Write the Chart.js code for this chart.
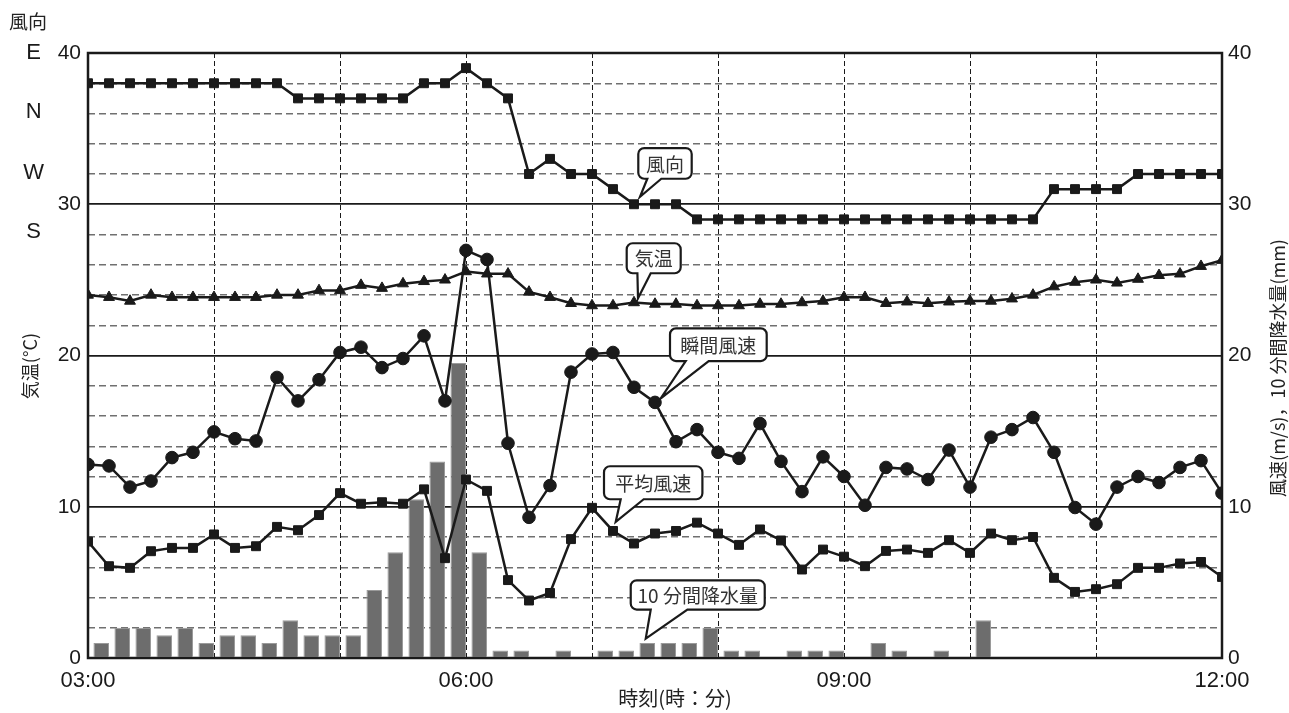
<!DOCTYPE html>
<html lang="ja">
<head>
<meta charset="utf-8">
<title>風向・気温・風速・10分間降水量</title>
<script src="https://cdn.jsdelivr.net/npm/chart.js@4.4.0/dist/chart.umd.min.js"></script>
<style>
  html, body { margin: 0; padding: 0; background: #fff; }
  #wrap { width: 1289px; height: 713px; position: relative; }
</style>
</head>
<body>
<div id="wrap"><canvas id="chart"></canvas></div>
<script>
// ── data: one reading every 10 min from 03:00 to 12:00 ──
var stepMin     = 10;
var xTickLabels = ['03:00', '06:00', '09:00', '12:00'];
var dirTicks    = [40, 36.1, 32.1, 28.2];
var dirLabels   = ['E', 'N', 'W', 'S'];

var windDir = [38, 38, 38, 38, 38, 38, 38, 38, 38, 38, 37, 37, 37, 37, 37, 37, 38, 38, 39, 38,
               37, 32, 33, 32, 32, 31, 30, 30, 30, 29, 29, 29, 29, 29, 29, 29, 29, 29, 29, 29,
               29, 29, 29, 29, 29, 29, 31, 31, 31, 31, 32, 32, 32, 32, 32];
var temp    = [24.0, 23.85, 23.6, 24.0, 23.85, 23.85, 23.85, 23.85, 23.85, 24.0, 24.0, 24.3, 24.3, 24.65, 24.45, 24.75, 24.9, 25.0, 25.55, 25.4,
               25.4, 24.2, 23.85, 23.45, 23.3, 23.3, 23.5, 23.4, 23.4, 23.3, 23.3, 23.3, 23.4, 23.4, 23.5, 23.6, 23.85, 23.85, 23.45, 23.55,
               23.45, 23.55, 23.6, 23.6, 23.75, 24.0, 24.55, 24.85, 25.0, 24.8, 25.05, 25.3, 25.4, 25.9, 26.3];
var gust    = [12.8, 12.7, 11.3, 11.7, 13.25, 13.6, 14.95, 14.5, 14.35, 18.55, 17.0, 18.4, 20.2, 20.55, 19.2, 19.8, 21.3, 17.0, 26.95, 26.35,
               14.2, 9.3, 11.4, 18.9, 20.1, 20.2, 17.9, 16.9, 14.3, 15.1, 13.6, 13.2, 15.5, 13.0, 11.0, 13.3, 12.0, 10.1, 12.6, 12.5,
               11.8, 13.75, 11.3, 14.6, 15.1, 15.9, 13.6, 9.95, 8.85, 11.3, 12.0, 11.6, 12.6, 13.05, 10.9];
var avgWind = [7.7, 6.07, 5.96, 7.06, 7.28, 7.28, 8.17, 7.28, 7.39, 8.67, 8.45, 9.45, 10.9, 10.2, 10.3, 10.2, 11.15, 6.6, 11.8, 11.05,
               5.15, 3.8, 4.3, 7.86, 9.93, 8.4, 7.57, 8.23, 8.4, 8.95, 8.23, 7.48, 8.5, 7.77, 5.85, 7.17, 6.7, 6.07, 7.08, 7.17,
               6.95, 7.79, 6.95, 8.23, 7.79, 8.0, 5.3, 4.37, 4.55, 4.88, 5.96, 5.96, 6.25, 6.35, 5.36];
// 10-min precipitation, for the intervals ending 03:10 ... 12:00
var rain    = [1, 2, 2, 1.5, 2, 1, 1.5, 1.5, 1, 2.5, 1.5, 1.5, 1.5, 4.5, 7, 10.5, 13, 19.5, 7, 0.5,
               0.5, 0, 0.5, 0, 0.5, 0.5, 1, 1, 1, 2, 0.5, 0.5, 0, 0.5, 0.5, 0.5, 0, 1, 0.5, 0,
               0.5, 0, 2.5, 0, 0, 0, 0, 0, 0, 0, 0, 0, 0, 0];

var barPct   = 0.74;
var barShift = stepMin * barPct / 2;   // bars sit just left of the time they end at
var ink      = '#1a1a1a';
var jpFont   = '"Noto Sans CJK JP", "Noto Sans", sans-serif';

function pts(arr) {
  return arr.map(function (v, i) { return { x: i * stepMin, y: v }; });
}
function rainPts(arr) {
  return arr.map(function (v, k) { return { x: (k + 1) * stepMin - barShift, y: v }; });
}

// speech-bubble labels, anchored on a data point
var callouts = [
  { text: '風向',         x: 26 * stepMin, y: windDir[26], tip: [6, -7.5],   box: [-1.7, -48.7, 53.4, 30.7], tail: [9, 23] },
  { text: '気温',         x: 26 * stepMin, y: temp[26],    tip: [4, -4.3],   box: [-11.3, -55, 54, 30],      tail: [10.7, 24] },
  { text: '瞬間風速',     x: 27 * stepMin, y: gust[27],    tip: [5.7, -4],   box: [9.3, -70, 96.7, 32.7],    tail: [15.7, 38.7] },
  { text: '平均風速',     x: 25 * stepMin, y: avgWind[25], tip: [2.7, -9],   box: [-11.7, -55.7, 98.4, 33],  tail: [16.7, 39.7] },
  { text: '10 分間降水量', x: 27 * stepMin - barShift, y: rain[26], tip: [-1.5, -4.3], box: [-15, -58.3, 134, 29.3], tail: [20, 56.7] },
];

function lineSet(label, data, style, radius) {
  return {
    type: 'line', label: label, data: pts(data), yAxisID: 'y',
    borderColor: ink, borderWidth: 2.5, tension: 0,
    pointStyle: style, pointRadius: radius, pointBorderWidth: 1,
    pointBackgroundColor: ink, pointBorderColor: ink,
    clip: 0, order: 1,
  };
}

var framePlugin = {
  id: 'frame',
  beforeDatasetsDraw: function (chart) {
    var a = chart.chartArea, ctx = chart.ctx;
    ctx.save();
    ctx.strokeStyle = ink;
    ctx.lineWidth = 2.5;
    ctx.strokeRect(a.left, a.top, a.right - a.left, a.bottom - a.top);
    ctx.restore();
  },
};

function drawCallout(ctx, c, px, py) {
  var tx = px + c.tip[0], ty = py + c.tip[1];
  var bx = tx + c.box[0], by = ty + c.box[1], bw = c.box[2], bh = c.box[3], r = 6;
  ctx.beginPath();
  ctx.moveTo(bx + r, by);
  ctx.lineTo(bx + bw - r, by);
  ctx.arcTo(bx + bw, by, bx + bw, by + r, r);
  ctx.lineTo(bx + bw, by + bh - r);
  ctx.arcTo(bx + bw, by + bh, bx + bw - r, by + bh, r);
  ctx.lineTo(bx + c.tail[1], by + bh);
  ctx.lineTo(tx, ty);
  ctx.lineTo(bx + c.tail[0], by + bh);
  ctx.lineTo(bx + r, by + bh);
  ctx.arcTo(bx, by + bh, bx, by + bh - r, r);
  ctx.lineTo(bx, by + r);
  ctx.arcTo(bx, by, bx + r, by, r);
  ctx.closePath();
  ctx.fillStyle = '#fff';
  ctx.fill();
  ctx.lineWidth = 2.2;
  ctx.strokeStyle = ink;
  ctx.stroke();
  ctx.fillStyle = '#333';
  ctx.font = '19px ' + jpFont;
  ctx.textAlign = 'center';
  ctx.textBaseline = 'middle';
  ctx.fillText(c.text, bx + bw / 2, by + bh / 2 + 1);
}

var notesPlugin = {
  id: 'notes',
  afterDraw: function (chart) {
    var ctx = chart.ctx, xs = chart.scales.x, ys = chart.scales.y;
    ctx.save();
    callouts.forEach(function (c) {
      drawCallout(ctx, c, xs.getPixelForValue(c.x), ys.getPixelForValue(c.y));
    });

    ctx.fillStyle = '#222';
    ctx.textAlign = 'center';
    ctx.textBaseline = 'middle';
    ctx.font = '19px ' + jpFont;
    ctx.fillText('風向', 28, 22);
    ctx.font = '20px ' + jpFont;
    ctx.fillText('時刻(時：分)', 675, 698);

    ctx.font = '18px ' + jpFont;
    ctx.save();
    ctx.translate(30, 366);
    ctx.rotate(-Math.PI / 2);
    ctx.fillText('気温(°C)', 0, 0);
    ctx.restore();
    ctx.save();
    ctx.translate(1278, 368);
    ctx.rotate(-Math.PI / 2);
    ctx.fillText('風速(m/s)，10 分間降水量(mm)', 0, 0);
    ctx.restore();
    ctx.restore();
  },
};

var numFont = { family: '"Liberation Sans", Arial, sans-serif', size: 21 };

new Chart(document.getElementById('chart').getContext('2d'), {
  type: 'line',
  data: {
    datasets: [
      lineSet('風向', windDir, 'rect', 6.3),
      lineSet('気温', temp, 'triangle', 6.3),
      lineSet('瞬間風速', gust, 'circle', 6.3),
      lineSet('平均風速', avgWind, 'rect', 6.3),
      {
        type: 'bar', label: '10分間降水量', data: rainPts(rain), yAxisID: 'y',
        backgroundColor: '#6d6d6d', borderColor: '#9a9a9a',
        borderWidth: function (c) { return c.raw && c.raw.y > 0 ? 1 : 0; },
        borderSkipped: 'start',
        barPercentage: barPct, categoryPercentage: 1,
        order: 5,
      },
    ],
  },
  options: {
    responsive: true,
    maintainAspectRatio: false,
    devicePixelRatio: 1,
    animation: false,
    layout: { padding: { top: 53, left: 0, right: 0, bottom: 0 } },
    plugins: { legend: { display: false }, tooltip: { enabled: false } },
    scales: {
      x: {
        type: 'linear', min: 0, max: 540, offset: false,
        grid: { color: ink, lineWidth: 1, drawTicks: false, offset: false },
        border: { display: false, dash: [5, 3] },
        ticks: {
          stepSize: 60, autoSkip: false, maxRotation: 0, padding: 10,
          color: ink, font: { family: numFont.family, size: 22 },
          callback: function (v) { return v % 180 === 0 ? xTickLabels[v / 180] : ''; },
        },
        afterFit: function (s) { s.height = 55; },
      },
      y: {
        type: 'linear', position: 'left', min: 0, max: 40, weight: 0,
        grid: {
          drawTicks: false,
          color: function (c) { return c.tick && c.tick.value % 10 === 0 ? ink : '#707070'; },
          lineWidth: function (c) { return c.tick && c.tick.value % 10 === 0 ? 1.8 : 1.4; },
        },
        border: {
          display: false,
          dash: function (c) { return c.tick && c.tick.value % 10 === 0 ? [] : [7, 4]; },
        },
        ticks: {
          stepSize: 2, padding: 7, color: ink, font: numFont,
          callback: function (v) { return v % 10 === 0 ? String(v) : ''; },
        },
        afterFit: function (s) { s.width = 38; },
      },
      yDir: {
        type: 'linear', position: 'left', min: 0, max: 40, weight: 1,
        grid: { drawOnChartArea: false, drawTicks: false },
        border: { display: false },
        afterBuildTicks: function (s) { s.ticks = dirTicks.map(function (v) { return { value: v }; }); },
        ticks: {
          crossAlign: 'center', padding: 6, color: ink,
          font: { family: numFont.family, size: 22 },
          callback: function (v) { return dirLabels[dirTicks.indexOf(v)]; },
        },
        afterFit: function (s) { s.width = 50; },
      },
      y2: {
        type: 'linear', position: 'right', min: 0, max: 40,
        grid: { drawOnChartArea: false, drawTicks: false },
        border: { display: false },
        ticks: { stepSize: 10, padding: 6, color: ink, font: numFont },
        afterFit: function (s) { s.width = 67; },
      },
    },
  },
  plugins: [framePlugin, notesPlugin],
});
</script>
</body>
</html>
